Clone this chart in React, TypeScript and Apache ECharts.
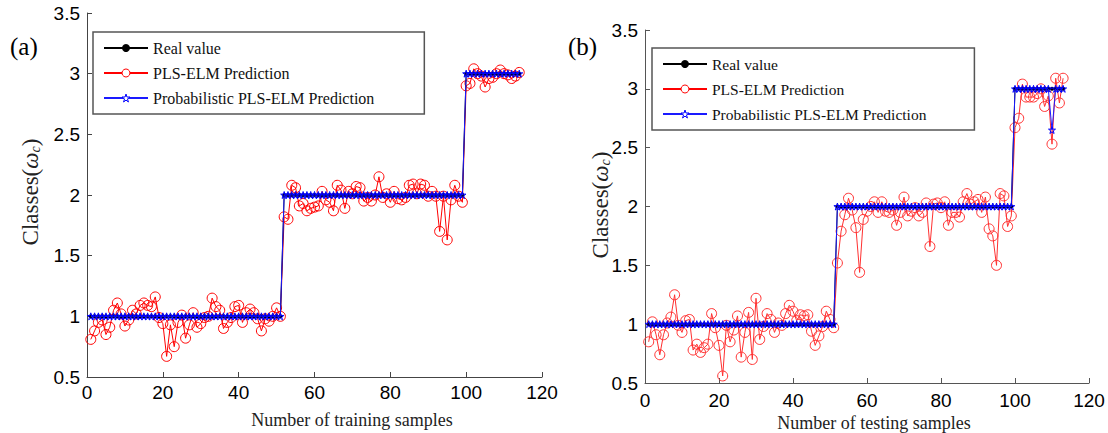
import React, { useEffect, useRef } from "react";
import * as echarts from "echarts";

// ---------- data ----------
const xTicks = [0, 20, 40, 60, 80, 100, 120];
const yTicks = [0.5, 1, 1.5, 2, 2.5, 3, 3.5];

// training set: number of samples in classes 1, 2, 3
const trainClassCounts = [51, 48, 15];
const trainPred = [
  0.81, 0.88, 0.95, 0.97, 0.85, 0.91, 1.05, 1.11, 1.02, 0.92,
  0.97, 1.05, 1.02, 1.09, 1.11, 1.09, 1.08, 1.16, 0.99, 0.94,
  0.67, 0.93, 0.75, 0.95, 1.01, 0.82, 0.93, 1.03, 0.91, 0.94,
  0.99, 1.0, 1.15, 1.08, 1.05, 0.9, 0.95, 0.99, 1.08, 1.09,
  0.95, 1.03, 1.06, 1.03, 0.98, 0.88, 0.98, 0.96, 1.0, 1.07,
  1.0,
  1.82, 1.8, 2.08, 2.06, 1.91, 1.93, 1.87, 1.89, 1.9, 1.91,
  2.03, 1.96, 1.94, 1.87, 2.08, 2.04, 1.89, 2.03, 2.01, 2.07,
  2.06, 1.95, 1.98, 1.95, 2.0, 2.15, 1.98, 2.01, 1.94, 2.03,
  1.97, 1.96, 1.98, 2.08, 2.09, 2.01, 2.09, 2.08, 1.99, 2.03,
  1.99, 1.7, 1.99, 1.63, 1.96, 2.08, 1.99, 1.94,
  2.9, 2.92, 3.04, 3.0, 2.98, 2.89, 2.96, 2.97, 3.0, 3.03,
  3.0, 2.99, 2.96, 2.98, 3.01,
];

// testing set
const testClassCounts = [51, 48, 14];
const testPred = [
  0.85, 1.02, 0.91, 0.74, 0.91, 1.01, 1.06, 1.25, 0.99, 0.93,
  1.03, 1.04, 0.78, 0.83, 0.76, 0.8, 0.83, 1.09, 0.97, 0.82,
  0.56, 0.99, 0.85, 0.95, 1.07, 0.72, 0.93, 1.1, 0.7, 1.22,
  0.87, 0.98, 1.09, 1.04, 0.93, 1.01, 0.99, 1.09, 1.16, 1.11,
  1.03, 1.08, 1.07, 1.08, 0.94, 0.82, 0.9, 0.98, 1.11, 1.04,
  0.97,
  1.52, 1.79, 1.93, 2.07, 1.97, 1.82, 1.44, 1.89, 1.96, 2.0,
  2.04, 1.95, 2.04, 1.96, 1.95, 1.97, 1.84, 1.95, 2.08, 1.92,
  1.96, 1.99, 1.92, 1.95, 2.03, 1.66, 2.02, 2.03, 1.99, 2.04,
  1.84, 1.95, 1.95, 1.91, 2.04, 2.11, 2.02, 2.04, 2.06, 1.95,
  2.08, 1.81, 1.75, 1.5, 2.11, 2.09, 1.83, 1.92,
  2.67, 2.75, 3.04, 2.93, 2.93, 2.93, 2.96, 3.0, 2.85, 2.94,
  2.53, 3.09, 2.88, 3.09,
];
// probabilistic prediction differs from the real class only here: [sample, value]
const testProbExceptions = [[110, 2.65]];

const seriesNames = ["Real value", "PLS-ELM Prediction", "Probabilistic PLS-ELM Prediction"];

// ---------- helpers ----------
function realFromCounts(counts: number[]): number[] {
  const out: number[] = [];
  counts.forEach((c, k) => {
    for (let j = 0; j < c; j++) out.push(k + 1);
  });
  return out;
}
const toPairs = (arr: number[]) => arr.map((v, i) => [i + 1, v]);

const STAR =
  "path://M50,2 L61,37 L98,37 L68,59 L79,95 L50,73 L21,95 L32,59 L2,37 L39,37 Z";

const SANS = "Liberation Sans, Arial, sans-serif";
const SERIF = "Liberation Serif, Times New Roman, serif";

export default function App() {
  const ref = useRef<HTMLDivElement>(null);
  useEffect(() => {
    if (!ref.current) return;
    const chart = echarts.init(ref.current, undefined, { renderer: "svg" });

    const trainReal = realFromCounts(trainClassCounts);
    const testReal = realFromCounts(testClassCounts);
    const testProb = testReal.slice();
    testProbExceptions.forEach(([s, v]) => (testProb[s - 1] = v));
    const trainProb = trainReal.slice();

    const mkX = (gi: number, color: string, margin: number) => ({
      type: "value",
      gridIndex: gi,
      min: 0,
      max: 120,
      interval: 20,
      axisLine: { show: true, onZero: false, lineStyle: { color, width: 1 } },
      axisTick: { show: true, inside: true, length: 5, lineStyle: { color } },
      splitLine: { show: false },
      axisLabel: {
        fontFamily: SANS,
        fontSize: 19,
        color: "#000",
        margin,
        formatter: (v: number) => (xTicks.includes(v) ? String(v) : ""),
      },
    });
    const mkY = (gi: number, color: string) => ({
      type: "value",
      gridIndex: gi,
      min: 0.5,
      max: 3.5,
      interval: 0.5,
      axisLine: { show: true, onZero: false, lineStyle: { color, width: 1 } },
      axisTick: { show: true, inside: true, length: 5, lineStyle: { color } },
      splitLine: { show: false },
      axisLabel: {
        fontFamily: SANS,
        fontSize: 19,
        color: "#000",
        margin: 7,
        formatter: (v: number) => (yTicks.includes(v) ? String(v) : ""),
      },
    });

    const mkSeries = (gi: number, real: number[], pred: number[], prob: number[], red: string) => [
      {
        name: seriesNames[1],
        type: "line",
        xAxisIndex: gi,
        yAxisIndex: gi,
        data: toPairs(pred),
        symbol: "circle",
        symbolSize: 10,
        lineStyle: { color: red, width: 1 },
        itemStyle: { color: "rgba(255,255,255,0)", borderColor: red, borderWidth: 1 },
        z: 2,
      },
      {
        name: seriesNames[0],
        type: "line",
        xAxisIndex: gi,
        yAxisIndex: gi,
        data: toPairs(real),
        symbol: "circle",
        symbolSize: 4,
        lineStyle: { color: "#000", width: 1 },
        itemStyle: { color: "#000" },
        z: 3,
      },
      {
        name: seriesNames[2],
        type: "line",
        xAxisIndex: gi,
        yAxisIndex: gi,
        data: toPairs(prob),
        symbol: STAR,
        symbolSize: 7,
        lineStyle: { color: "#1a1aff", width: 1 },
        itemStyle: { color: "rgba(255,255,255,0)", borderColor: "#0000ff", borderWidth: 1 },
        z: 4,
      },
    ];

    const legendData = [
      { name: seriesNames[0], itemStyle: { color: "#000", borderWidth: 0 } },
      { name: seriesNames[1], itemStyle: { color: "#fff", borderColor: "#ff0000", borderWidth: 1 } },
      { name: seriesNames[2], itemStyle: { color: "#fff", borderColor: "#0000ff", borderWidth: 1 } },
    ];

    const mkLegend = (left: number, top: number, fs: number, padR: number) => ({
      orient: "vertical",
      left,
      top,
      data: legendData,
      padding: [8, padR, 8, 10],
      borderColor: "#555",
      borderWidth: 1.5,
      backgroundColor: "#fff",
      itemWidth: 44,
      itemHeight: 10,
      itemGap: 9,
      selectedMode: false,
      textStyle: { fontFamily: SERIF, fontSize: fs, color: "#111" },
    });

    const yTitle = (x: number, y: number) => ({
      type: "text",
      x,
      y,
      rotation: Math.PI / 2,
      style: {
        text: "Classes({w|ω}{c|c})",
        fontFamily: SERIF,
        fontSize: 23,
        fill: "#222",
        align: "center",
        verticalAlign: "middle",
        rich: {
          w: { fontFamily: SERIF, fontSize: 23, fontStyle: "italic", fill: "#222" },
          c: {
            fontFamily: SERIF,
            fontSize: 14,
            fontStyle: "italic",
            fill: "#222",
            verticalAlign: "bottom",
            padding: [10, 0, 0, 0],
          },
        },
      },
    });

    chart.setOption({
      animation: false,
      backgroundColor: "#fff",
      grid: [
        { left: 87, top: 13, width: 455, height: 364 },
        { left: 645, top: 30, width: 444, height: 353 },
      ],
      xAxis: [mkX(0, "#444", 6), mkX(1, "#555", 8)],
      yAxis: [mkY(0, "#444"), mkY(1, "#555")],
      legend: [mkLegend(93, 32, 16, 50), mkLegend(652, 48, 15.5, 48)],
      series: [
        ...mkSeries(0, trainReal, trainPred, trainProb, "#ff0000"),
        ...mkSeries(1, testReal, testPred, testProb, "#ff3030"),
      ],
      graphic: [
        { type: "text", x: 10, y: 34, style: { text: "(a)", fontFamily: SERIF, fontSize: 25, fill: "#000" } },
        { type: "text", x: 568, y: 34, style: { text: "(b)", fontFamily: SERIF, fontSize: 25, fill: "#000" } },
        yTitle(30, 192),
        yTitle(600, 205),
        {
          type: "text",
          x: 352,
          y: 420,
          style: {
            text: "Number of training samples",
            fontFamily: SERIF,
            fontSize: 18,
            fill: "#222",
            align: "center",
            verticalAlign: "middle",
          },
        },
        {
          type: "text",
          x: 874,
          y: 423,
          style: {
            text: "Number of testing samples",
            fontFamily: SERIF,
            fontSize: 18,
            fill: "#222",
            align: "center",
            verticalAlign: "middle",
          },
        },
      ],
    });
    return () => chart.dispose();
  }, []);
  return (
    <div
      ref={ref}
      style={{ position: "absolute", left: 0, top: 0, width: 1108, height: 433 }}
    />
  );
}
